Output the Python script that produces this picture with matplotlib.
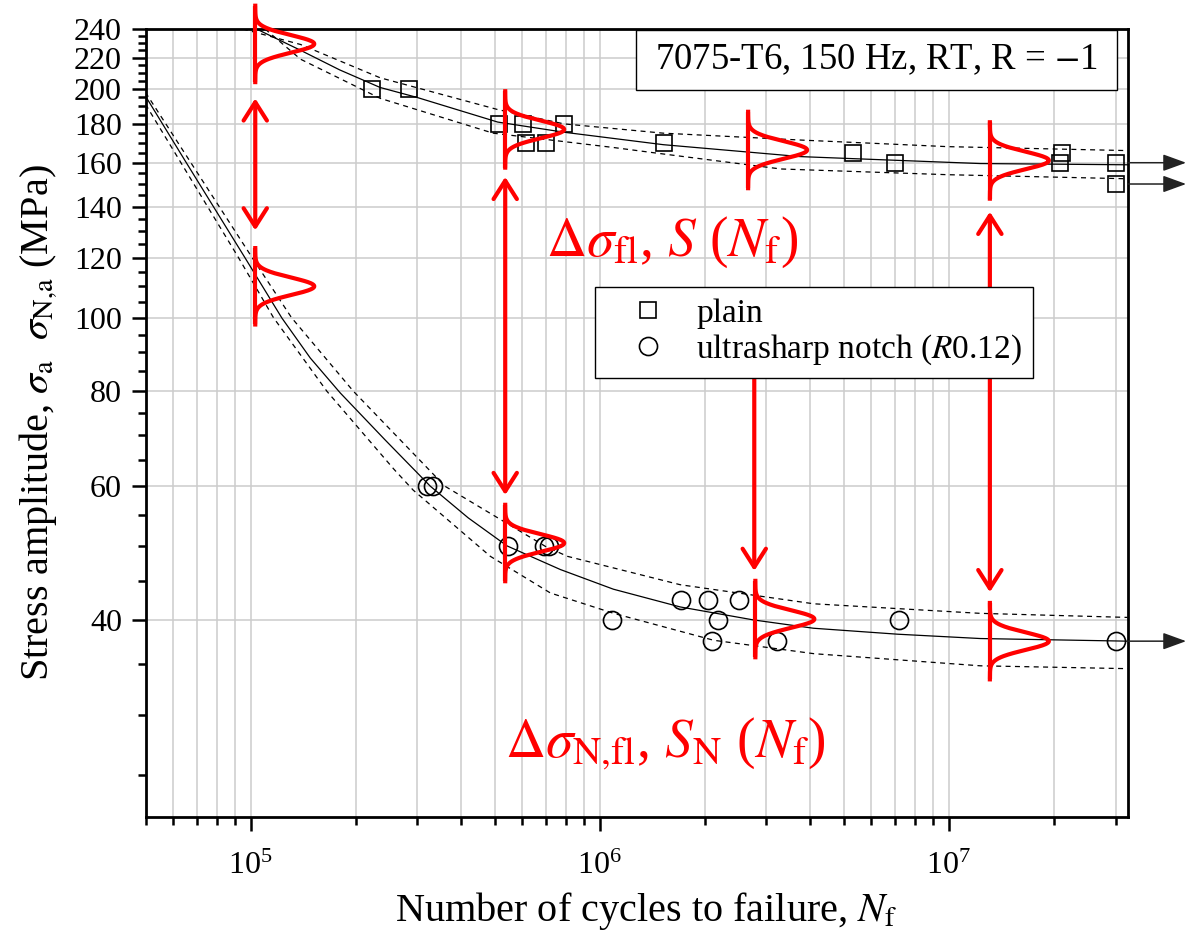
import numpy as np
import matplotlib
matplotlib.use('Agg')
import matplotlib.pyplot as plt
import matplotlib.transforms as mtransforms
from matplotlib.patches import ArrowStyle, Rectangle
from matplotlib.ticker import FixedLocator, FixedFormatter, NullFormatter

plt.rcParams['font.family'] = ['Liberation Serif', 'DejaVu Serif']
plt.rcParams['mathtext.fontset'] = 'stix'

# --- test results (cycles, stress amplitude in MPa) ---
plain_n = [2.22e5, 2.85e5, 5.13e5, 6.01e5, 7.88e5, 6.15e5, 7.02e5, 1.53e6,
           5.32e6, 7.03e6, 2.11e7, 2.08e7]
plain_s = [200, 200, 180, 180, 180, 170, 170, 170, 165, 160, 165, 160]
plain_runout_n = [3.0e7, 3.0e7]
plain_runout_s = [160, 150]

notch_n = [3.2e5, 3.33e5, 5.46e5, 6.9e5, 7.14e5, 1.085e6, 1.71e6, 2.04e6,
           2.5e6, 2.18e6, 2.1e6, 3.22e6, 7.19e6]
notch_s = [60, 60, 50, 50, 50, 40, 42.5, 42.5, 42.5, 40, 37.5, 37.5, 40]
notch_runout_n = [3.0e7]
notch_runout_s = [37.5]

# fitted S-N curves and their scatter bands
plain_fit_n = [1.04e5, 1.39e5, 1.8e5, 2.35e5, 3.0e5, 5.1e5, 7.9e5, 1.52e6,
               3.75e6, 5.3e6, 1.23e7, 3.25e7]
plain_fit_s = [240, 225, 212, 201, 195, 181, 175.5, 169, 163, 162, 159.6, 159]
plain_up_n = [9.5e4, 1.39e5, 2.35e5, 5.1e5, 7.9e5, 1.52e6, 3.75e6, 9.9e6, 3.25e7]
plain_up_s = [240, 229, 207, 188, 180, 175, 171.4, 168, 166]
plain_lo_n = [1.1e5, 1.39e5, 2.35e5, 4.95e5, 1.09e6, 1.52e6, 3.3e6, 9.9e6, 3.25e7]
plain_lo_s = [240, 219, 194.5, 175, 167.6, 164.3, 157, 154.3, 152.4]

notch_fit_n = [5.02e4, 6.5e4, 9.65e4, 1.229e5, 1.482e5, 1.806e5, 2.43e5, 3.27e5,
               4.2e5, 5.43e5, 7.71e5, 1.094e6, 1.7e6, 2.75e6, 4.09e6, 7.13e6,
               1.23e7, 3.25e7]
notch_fit_s = [195.2, 160.8, 119.8, 99.9, 88.5, 79.6, 69.0, 60.0, 54.5, 50.05,
               46.6, 43.9, 41.6, 40.0, 39.0, 38.3, 37.8, 37.5]
notch_up_n = [5.0e4, 1.01e5, 1.31e5, 1.97e5, 3.6e5, 6.98e5, 8.08e5, 1.7e6,
              4.1e6, 1.23e7, 3.25e7]
notch_up_s = [198, 120, 100, 80, 60, 50, 48.5, 44.5, 42.0, 40.8, 40.3]
notch_lo_n = [5.0e4, 9.23e4, 1.163e5, 1.654e5, 2.57e5, 2.92e5, 4.86e5, 7.22e5,
              1.096e6, 2.12e6, 4.11e6, 1.23e7, 3.25e7]
notch_lo_s = [191, 120, 100, 80, 63.2, 59.3, 48.5, 43.4, 40.8, 37.6, 36.1,
              34.8, 34.5]

# schematic scatter distributions (red) and the arrows between them
pdf_n = [1.031e5, 1.031e5, 5.36e5, 5.36e5, 2.66e6, 2.79e6, 1.31e7, 1.31e7]
pdf_s = [229.4, 110, 177, 50.5, 166.3, 40.1, 161.1, 37.5]
arrow_n = [1.031e5, 5.36e5, 2.77e6, 1.31e7]
arrow_top = [194.5, 153.3, 105, 137.9]
arrow_bot = [130.3, 58.4, 46.4, 43.5]
arrow_kind = ['<->', '<->', '->', '<->']

y_major = [40, 60, 80, 100, 120, 140, 160, 180, 200, 220, 240]
y_minor = [v for v in range(25, 240, 5) if v not in y_major]

fig = plt.figure(figsize=(11.86, 9.33), dpi=100)
ax = fig.add_axes([0.1227, 0.1243, 0.8281, 0.8446])
ax.set_xscale('log')
ax.set_yscale('log')

fit_kw = dict(color='black', lw=0.9)
band_kw = dict(color='black', lw=0.9, ls=(0, (4, 3.5)))
ax.plot(plain_fit_n, plain_fit_s, **fit_kw)
ax.plot(plain_up_n, plain_up_s, **band_kw)
ax.plot(plain_lo_n, plain_lo_s, **band_kw)
ax.plot(notch_fit_n, notch_fit_s, **fit_kw)
ax.plot(notch_up_n, notch_up_s, **band_kw)
ax.plot(notch_lo_n, notch_lo_s, **band_kw)

mk = dict(ls='none', mfc='none', mec='black', mew=1.2)
h1, = ax.plot(plain_n, plain_s, marker='s', ms=11.5, label='plain', **mk)
ax.plot(plain_runout_n, plain_runout_s, marker='s', ms=11.5, **mk)
h2, = ax.plot(notch_n, notch_s, marker='o', ms=13, label=r'ultrasharp notch ($R$0.12)', **mk)
ax.plot(notch_runout_n, notch_runout_s, marker='o', ms=13, **mk)

# run-out arrows leaving the right edge
for s in plain_runout_s + notch_runout_s:
    ax.annotate('', xy=(1.0595, s), xytext=(1.0, s),
                xycoords=('axes fraction', 'data'), textcoords=('axes fraction', 'data'),
                arrowprops=dict(arrowstyle=ArrowStyle('-|>', head_length=0.55, head_width=0.2),
                                color='#222222', lw=1.1, mutation_scale=26,
                                shrinkA=0, shrinkB=0),
                annotation_clip=False)

# bell-shaped distributions, drawn in points around each anchor
yy = np.linspace(-27.5, 27.5, 201)
xx = 42.5 * np.exp(-0.5 * (yy / 6.3) ** 2)
for n, s in zip(pdf_n, pdf_s):
    trans = (mtransforms.Affine2D().scale(1 / 72.) + fig.dpi_scale_trans +
             mtransforms.ScaledTranslation(n, s, ax.transData))
    ax.plot([0, 0], [-27.5, 27.5], color='red', lw=3, transform=trans,
            clip_on=False, solid_capstyle='butt', zorder=4)
    ax.plot(xx, yy, color='red', lw=3, transform=trans, clip_on=False, zorder=4)

for n, top, bot, kind in zip(arrow_n, arrow_top, arrow_bot, arrow_kind):
    ax.annotate('', xy=(n, bot), xytext=(n, top),
                arrowprops=dict(arrowstyle=ArrowStyle(kind, head_length=0.55, head_width=0.35),
                                color='red', lw=3, mutation_scale=24,
                                shrinkA=0, shrinkB=0),
                annotation_clip=False)

ax.text(0.536, 0.712, r'$\Delta\sigma_\mathrm{fl}$, $S$ ($N_\mathrm{f}$)',
        transform=ax.transAxes, color='red', fontsize=40, ha='center', va='baseline')
ax.text(0.529, 0.076, r'$\Delta\sigma_\mathrm{N{,}fl}$, $S_\mathrm{N}$ ($N_\mathrm{f}$)',
        transform=ax.transAxes, color='red', fontsize=40, ha='center', va='baseline')

# test-condition box
ax.add_patch(Rectangle((0.4991, 0.9226), 0.4904, 0.0761, transform=ax.transAxes,
                       fc='white', ec='black', lw=1, zorder=6))
ax.text(0.7443, 0.9607, r'7075-T6, 150 Hz, RT, R = $-$1', transform=ax.transAxes,
        fontsize=26.5, ha='center', va='center', zorder=7)

leg = ax.legend(handles=[h1, h2], loc='upper left', bbox_to_anchor=(0.4577, 0.6726),
                borderaxespad=0, fontsize=24, fancybox=False, framealpha=1,
                edgecolor='black', borderpad=0.33, handlelength=2.5,
                handletextpad=0.2, labelspacing=0.12)
leg.get_frame().set_linewidth(1)

ax.set_xlim(5e4, 3.25e7)
ax.set_ylim(22, 240)
ax.yaxis.set_major_locator(FixedLocator(y_major))
ax.yaxis.set_major_formatter(FixedFormatter([str(v) for v in y_major]))
ax.yaxis.set_minor_locator(FixedLocator(y_minor))
ax.yaxis.set_minor_formatter(NullFormatter())
ax.xaxis.set_minor_formatter(NullFormatter())

ax.grid(True, which='major', axis='both', color='#cccccc', lw=1.1)
ax.grid(True, which='minor', axis='x', color='#cccccc', lw=1.1)
ax.set_axisbelow(True)
for sp in ax.spines.values():
    sp.set_linewidth(2)
ax.tick_params(which='major', direction='out', length=10, width=1.8, labelsize=23, pad=7)
ax.tick_params(which='minor', direction='out', length=5.5, width=1.8)
ax.tick_params(axis='x', which='major', pad=15)

ax.set_xlabel(r'Number of cycles to failure, $N_\mathrm{f}$', fontsize=29)
ax.set_ylabel(r'Stress amplitude, $\sigma_\mathrm{a}$  $\sigma_\mathrm{N{,}a}$ (MPa)', fontsize=29)
ax.xaxis.set_label_coords(0.51, -0.092)
ax.yaxis.set_label_coords(-0.087, 0.5)

fig.savefig('out.png', dpi=100)
